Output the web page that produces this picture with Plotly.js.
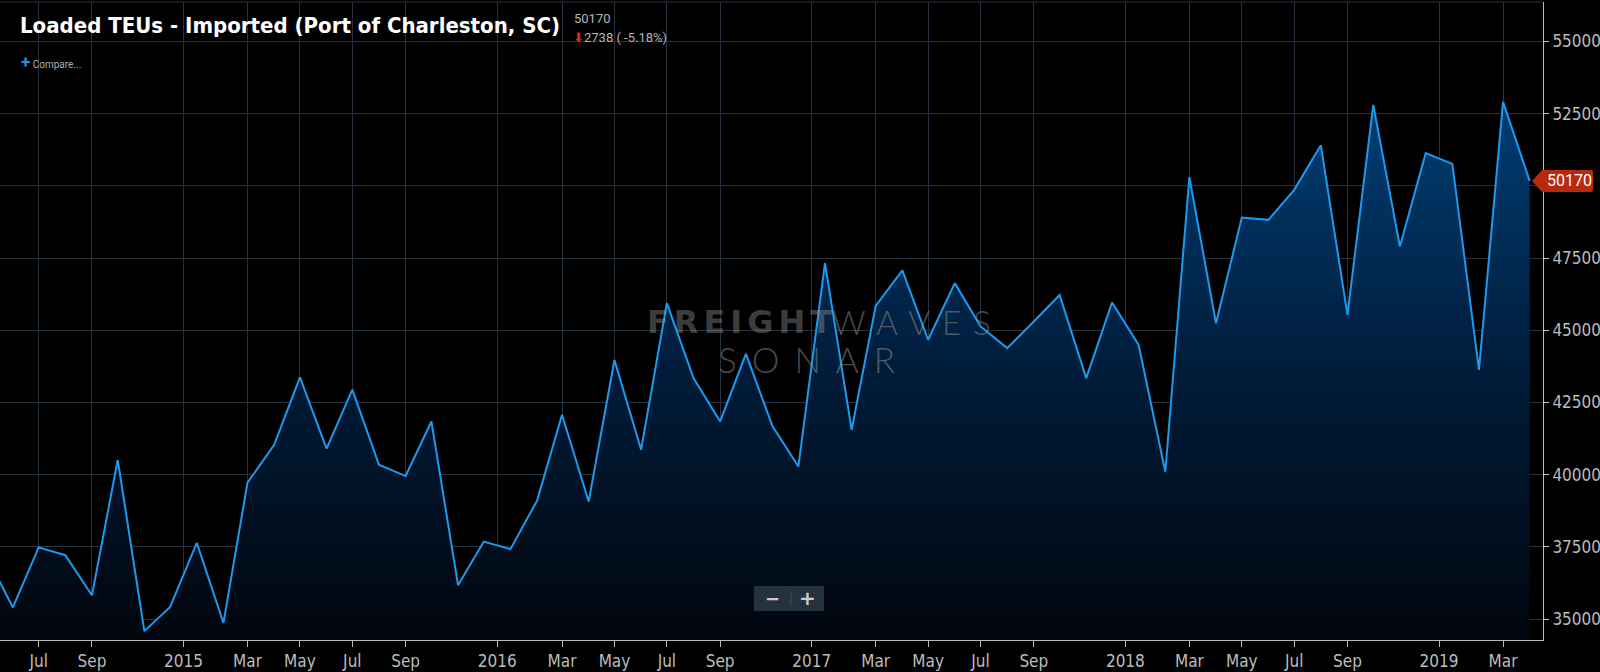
<!DOCTYPE html>
<html>
<head>
<meta charset="utf-8">
<script src="https://cdn.plot.ly/plotly-3.0.1.min.js"></script>
<style>
  html, body { margin: 0; padding: 0; background: #000; }
  #chart { width: 1600px; height: 672px; }
</style>
</head>
<body>
<div id="chart"></div>
<script>
// ---- data (monthly) ----
const months = [
  '2014-05-01','2014-06-01','2014-07-01','2014-08-01','2014-09-01','2014-10-01','2014-11-01','2014-12-01',
  '2015-01-01','2015-02-01','2015-03-01','2015-04-01','2015-05-01','2015-06-01','2015-07-01','2015-08-01','2015-09-01','2015-10-01','2015-11-01','2015-12-01',
  '2016-01-01','2016-02-01','2016-03-01','2016-04-01','2016-05-01','2016-06-01','2016-07-01','2016-08-01','2016-09-01','2016-10-01','2016-11-01','2016-12-01',
  '2017-01-01','2017-02-01','2017-03-01','2017-04-01','2017-05-01','2017-06-01','2017-07-01','2017-08-01','2017-09-01','2017-10-01','2017-11-01','2017-12-01',
  '2018-01-01','2018-02-01','2018-03-01','2018-04-01','2018-05-01','2018-06-01','2018-07-01','2018-08-01','2018-09-01','2018-10-01','2018-11-01','2018-12-01',
  '2019-01-01','2019-02-01','2019-03-01','2019-04-01'
];
const teus = [
  37200, 35400, 37480, 37210, 35820, 40510, 34580, 35420,
  37640, 34860, 39720, 41030, 43370, 40900, 42940, 40340, 39950, 41840, 36170, 37680,
  37420, 39100, 42070, 39070, 43970, 40860, 45940, 43340, 41840, 44180, 41670, 40280,
  47320, 41550, 45840, 47070, 44670, 46630, 45130, 44380, 45300, 46220, 43340, 45960,
  44490, 40100, 50300, 45240, 48900, 48820, 49860, 51400, 45530, 52800, 47900, 51130,
  50760, 43630, 52908, 50170
];
const monthNames = ['Jan','Feb','Mar','Apr','May','Jun','Jul','Aug','Sep','Oct','Nov','Dec'];
const labelledMonths = [2, 4, 6, 8]; // Mar, May, Jul, Sep (+ year at Jan)
const yTicks = [35000, 37500, 40000, 42500, 45000, 47500, 50000, 52500, 55000];
const titleText = 'Loaded TEUs - Imported (Port of Charleston, SC)';

// ---- derived ticks ----
const tickvals = [], ticktext = [];
const toStr = d => d.toISOString().slice(0, 19).replace('T', ' ');
months.forEach((m, i) => {
  const d = new Date(m + 'T00:00:00Z');
  const mo = d.getUTCMonth();
  if (mo === 0 && i > 0) {
    const p = new Date(months[i - 1] + 'T00:00:00Z');
    tickvals.push(toStr(new Date((p.getTime() + d.getTime()) / 2)));
    ticktext.push(String(d.getUTCFullYear()));
  } else if (labelledMonths.includes(mo)) {
    tickvals.push(m);
    ticktext.push(monthNames[mo]);
  }
});

const last = teus[teus.length - 1];
const prev = teus[teus.length - 2];
const diff = last - prev;
const pct = diff / prev * 100;

const yRange = [34273, 56364];
// the last-value flag hides the tick label it sits on
const yTickText = yTicks.map(v => Math.abs(v - last) < 700 ? '' : String(v));

// ---- layout helpers (pixel -> paper) ----
const M = { l: 0, r: 57, t: 2, b: 32 };
const PW = 1600 - M.l - M.r, PH = 672 - M.t - M.b;
const px = x => (x - M.l) / PW;
const py = y => (672 - M.b - y) / PH;
const lastPaperY = (last - yRange[0]) / (yRange[1] - yRange[0]);

const grid = '#25313e';
const axisCol = '#bdbdbd';
const tickFont = { family: 'DejaVu Sans Condensed, Roboto, sans-serif', size: 17, color: '#bcbcbc' };

const trace = {
  x: months,
  y: teus,
  type: 'scatter',
  mode: 'lines',
  line: { color: '#1b9bf0', width: 2 },
  fill: 'tozeroy',
  fillgradient: {
    type: 'vertical',
    start: yRange[0],
    stop: 52908,
    colorscale: [[0, 'rgb(2,6,14)'], [0.5, 'rgb(0,28,58)'], [1, 'rgb(0,62,116)']]
  },
  hoverinfo: 'skip'
};

const wmBold = 'rgba(150,150,150,0.42)';
const wmThin = 'rgba(150,150,150,0.5)';

const layout = {
  width: 1600,
  height: 672,
  margin: M,
  paper_bgcolor: '#000000',
  plot_bgcolor: '#000000',
  showlegend: false,
  title: {
    text: '<b>' + titleText + '</b>',
    x: 20 / 1600, xanchor: 'left', xref: 'container',
    y: 1 - 25 / 672, yanchor: 'middle', yref: 'container',
    font: { family: 'DejaVu Sans Condensed, Roboto, sans-serif', size: 22, color: '#ffffff' }
  },
  xaxis: {
    type: 'date',
    range: ['2014-05-17', '2019-04-16 12:00'],
    tickmode: 'array',
    tickvals: tickvals,
    ticktext: ticktext,
    showgrid: true, gridcolor: grid, gridwidth: 1,
    showline: true, linecolor: axisCol, linewidth: 1,
    ticks: 'outside', ticklen: 6, tickcolor: axisCol,
    tickfont: tickFont,
    zeroline: false, fixedrange: true
  },
  yaxis: {
    side: 'right',
    range: yRange,
    tickmode: 'array',
    tickvals: yTicks,
    ticktext: yTickText,
    showgrid: true, gridcolor: grid, gridwidth: 1,
    showline: true, linecolor: axisCol, linewidth: 1,
    ticks: 'outside', ticklen: 5, tickcolor: axisCol,
    tickfont: tickFont,
    zeroline: false, fixedrange: true
  },
  shapes: [
    // top border of plot
    { type: 'line', xref: 'paper', yref: 'paper', x0: 0, x1: 1, y0: 1, y1: 1, line: { color: grid, width: 1 } },
    // last-value flag on the y axis
    {
      type: 'path', xref: 'paper', yref: 'paper',
      xsizemode: 'pixel', ysizemode: 'pixel',
      xanchor: 1, yanchor: lastPaperY,
      path: 'M -11 0 L -1 11 L 48 11 Q 50 11 50 9 L 50 -9 Q 50 -11 48 -11 L -1 -11 Z',
      fillcolor: '#b8290e', line: { width: 0 }, layer: 'above'
    },
    // zoom button
    { type: 'rect', xref: 'paper', yref: 'paper', x0: px(754), x1: px(824), y0: py(611), y1: py(586),
      fillcolor: '#24313e', line: { width: 0 }, layer: 'above' },
    { type: 'line', xref: 'paper', yref: 'paper', x0: px(791), x1: px(791), y0: py(606), y1: py(591),
      line: { color: '#3f4c5a', width: 1 }, layer: 'above' }
  ],
  annotations: [
    { text: String(last), xref: 'paper', yref: 'y', x: 1, y: last,
      xanchor: 'left', yanchor: 'middle', xshift: 2, showarrow: false,
      font: { family: 'Roboto, sans-serif', size: 16, color: '#ffffff' } },
    { text: String(last), xref: 'paper', yref: 'paper', x: px(572), y: py(18),
      xanchor: 'left', yanchor: 'middle', showarrow: false,
      font: { family: 'Roboto, sans-serif', size: 13, color: '#b4b4b4' } },
    { text: '<span style="color:#e0251b">⬇</span>' + Math.abs(diff) + ' ( ' + pct.toFixed(2) + '%)',
      xref: 'paper', yref: 'paper', x: px(571), y: py(37),
      xanchor: 'left', yanchor: 'middle', showarrow: false,
      font: { family: 'Roboto, sans-serif', size: 13, color: '#b4b4b4' } },
    { text: '<span style="color:#2a8fe2;font-size:17px"><b>+</b></span> Compare...',
      xref: 'paper', yref: 'paper', x: px(19), y: py(62),
      xanchor: 'left', yanchor: 'middle', showarrow: false,
      font: { family: 'Roboto, sans-serif', size: 10, color: '#b0b0b0' } },
    // watermark
    { text: '<span style="letter-spacing:5px">FREIGHT</span>',
      xref: 'paper', yref: 'paper', x: px(645), y: py(322),
      xanchor: 'left', yanchor: 'middle', showarrow: false,
      font: { family: 'DejaVu Sans, sans-serif', size: 32, weight: 'bold', color: wmBold } },
    { text: '<span style="letter-spacing:12px">WAVES</span>',
      xref: 'paper', yref: 'paper', x: px(830), y: py(322),
      xanchor: 'left', yanchor: 'middle', showarrow: false,
      font: { family: 'Lato, DejaVu Sans, sans-serif', size: 33, weight: 300, color: wmThin } },
    { text: '<span style="letter-spacing:15px">SONAR</span>',
      xref: 'paper', yref: 'paper', x: px(716), y: py(359),
      xanchor: 'left', yanchor: 'middle', showarrow: false,
      font: { family: 'Lato, DejaVu Sans, sans-serif', size: 35, weight: 300, color: wmThin } },
    // zoom button glyphs
    { text: '<b>−</b>', xref: 'paper', yref: 'paper', x: px(772), y: py(598),
      xanchor: 'center', yanchor: 'middle', showarrow: false,
      font: { family: 'DejaVu Sans, sans-serif', size: 18, color: '#c9c9c9' } },
    { text: '<b>+</b>', xref: 'paper', yref: 'paper', x: px(807), y: py(598),
      xanchor: 'center', yanchor: 'middle', showarrow: false,
      font: { family: 'DejaVu Sans, sans-serif', size: 20, color: '#c9c9c9' } }
  ]
};

Plotly.newPlot('chart', [trace], layout, { displayModeBar: false, staticPlot: true });
</script>
</body>
</html>
